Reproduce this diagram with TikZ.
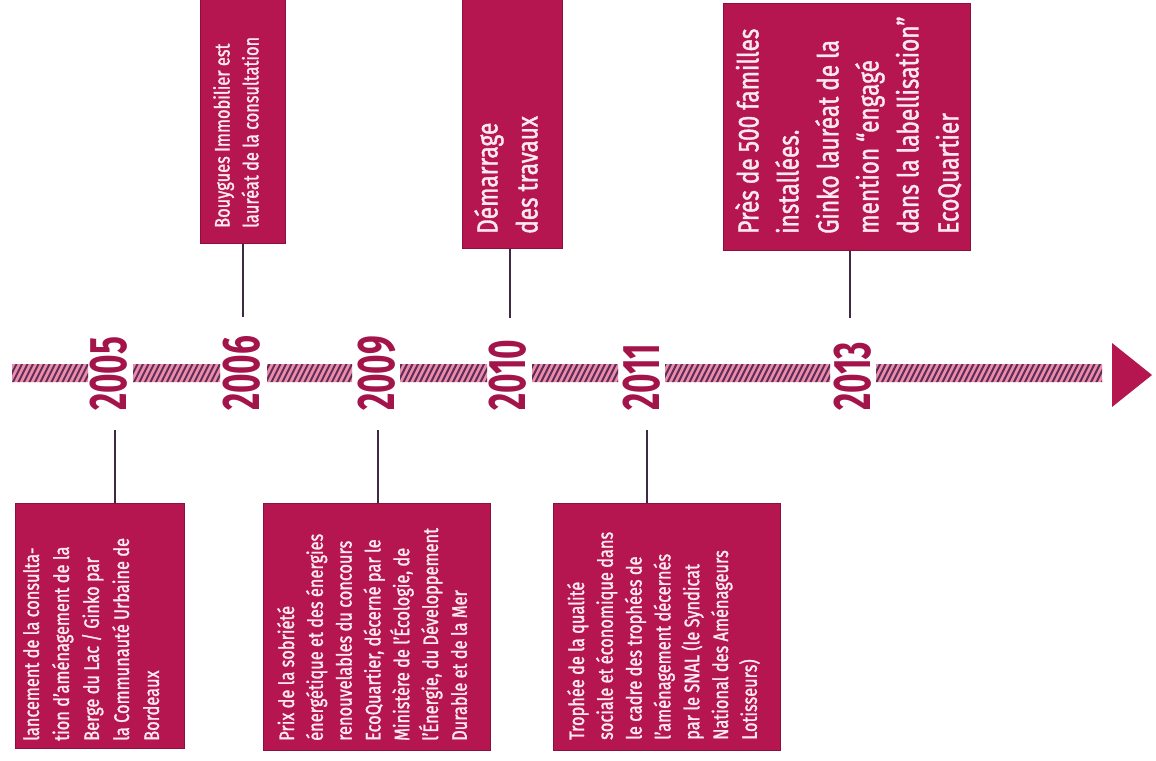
\documentclass[tikz,border=0pt]{standalone}
\usepackage{fontspec}
\setmainfont{Fira Sans}
\newfontfamily\cond[FakeStretch=0.78,FakeBold=1.3]{Fira Sans}
\newfontfamily\yearf[FakeStretch=0.63]{Fira Sans}
\definecolor{boxc}{HTML}{B5164F}
\definecolor{boxedge}{HTML}{8A1040}
\definecolor{txtc}{HTML}{FCEAF0}
\definecolor{yearc}{HTML}{A3144B}
\definecolor{connc}{HTML}{3F2A45}
\definecolor{bandpink}{HTML}{EC8CA8}
\definecolor{banddark}{HTML}{5E2E5A}
\tikzset{
  evbox/.style={fill=boxc, draw=boxedge, line width=0.6pt, inner sep=0pt, anchor=north west},
  evtext/.style={rotate=90, anchor=north west, align=left, inner sep=0pt, text=txtc,
    font=\cond\fontsize{21}{28.8}\selectfont},
  widetext/.style={evtext, font=\cond\fontsize{21}{30}\selectfont},
  bigtext/.style={evtext, font=\cond\fontsize{29}{40}\selectfont},
  yearlab/.style={rotate=90, anchor=west, inner sep=0pt, text=yearc,
    font=\yearf\bfseries\fontsize{53}{53}\selectfont},
  conn/.style={draw=connc, line width=1.4pt},
  hatch/.style={draw=banddark, line width=2pt},
}
\begin{document}
\begin{tikzpicture}[x=1pt,y=-1pt]
\useasboundingbox (0,0) rectangle (1156,760);
% timeline band
\begin{scope}
  \clip (12,364) rectangle (88,382) (133,364) rectangle (220,382)
        (267,364) rectangle (352,382) (400,364) rectangle (487,382)
        (532,364) rectangle (618,382) (665,364) rectangle (830,382)
        (876,364) rectangle (1102,382);
  \fill[bandpink] (0,360) rectangle (1110,386);
  \foreach \x in {0,5.5,...,1110} \draw[hatch] (\x,386) -- ++(13,-26);
\end{scope}
\fill[boxc] (1112,343) -- (1152,375) -- (1112,407) -- cycle;
% years
\node[yearlab] (y2005) at (109,411) {2005};
\node[yearlab] (y2006) at (242,411) {2006};
\node[yearlab] (y2009) at (377,411) {2009};
\node[yearlab] (y2010) at (508,411) {2010};
\node[yearlab] (y2011) at (642,411) {2011};
\node[yearlab] (y2013) at (853,411) {2013};
% boxes
\node[evbox, minimum width=169pt, minimum height=245pt] (b1) at (15,503) {};
\node[evbox, minimum width=227pt, minimum height=247pt] (b2) at (263,503) {};
\node[evbox, minimum width=227pt, minimum height=247pt] (b3) at (553,503) {};
\node[evbox, minimum width=85pt, minimum height=245pt] (b4) at (200,-2) {};
\node[evbox, minimum width=100pt, minimum height=250pt] (b5) at (462,-2) {};
\node[evbox, minimum width=247pt, minimum height=247pt] (b6) at (723,3) {};
% texts
\node[widetext] (t1) at (23,741) {lancement de la consulta-\\tion d’aménagement de la\\Berge du Lac / Ginko par\\la Communauté Urbaine de\\Bordeaux};
\node[evtext] (t2) at (277,741) {Prix de la sobriété\\énergétique et des énergies\\renouvelables du concours\\EcoQuartier, décerné par le\\Ministère de l’Écologie, de\\l’Énergie, du Développement\\Durable et de la Mer};
\node[evtext] (t3) at (567,740) {Trophée de la qualité\\sociale et économique dans\\le cadre des trophées de\\l’aménagement décernés\\par le SNAL (le Syndicat\\National des Aménageurs\\Lotisseurs)};
\node[evtext] (t4) at (213,228) {Bouygues Immobilier est\\lauréat de la consultation};
\node[bigtext] (t5) at (474,234) {Démarrage\\des travaux};
\node[bigtext] (t6) at (735,234) {Près de 500 familles\\installées.\\Ginko lauréat de la\\mention “engagé\\dans la labellisation”\\EcoQuartier};
% connectors
\coordinate (c1) at (115,430);
\coordinate (c2) at (243,317);
\coordinate (c3) at (378,430);
\coordinate (c4) at (510,318);
\coordinate (c5) at (647,430);
\coordinate (c6) at (850,318);
\draw[conn] (c1) -- (c1 |- b1.north);
\draw[conn] (c2) -- (c2 |- b4.south);
\draw[conn] (c3) -- (c3 |- b2.north);
\draw[conn] (c4) -- (c4 |- b5.south);
\draw[conn] (c5) -- (c5 |- b3.north);
\draw[conn] (c6) -- (c6 |- b6.south);
\end{tikzpicture}
\end{document}
